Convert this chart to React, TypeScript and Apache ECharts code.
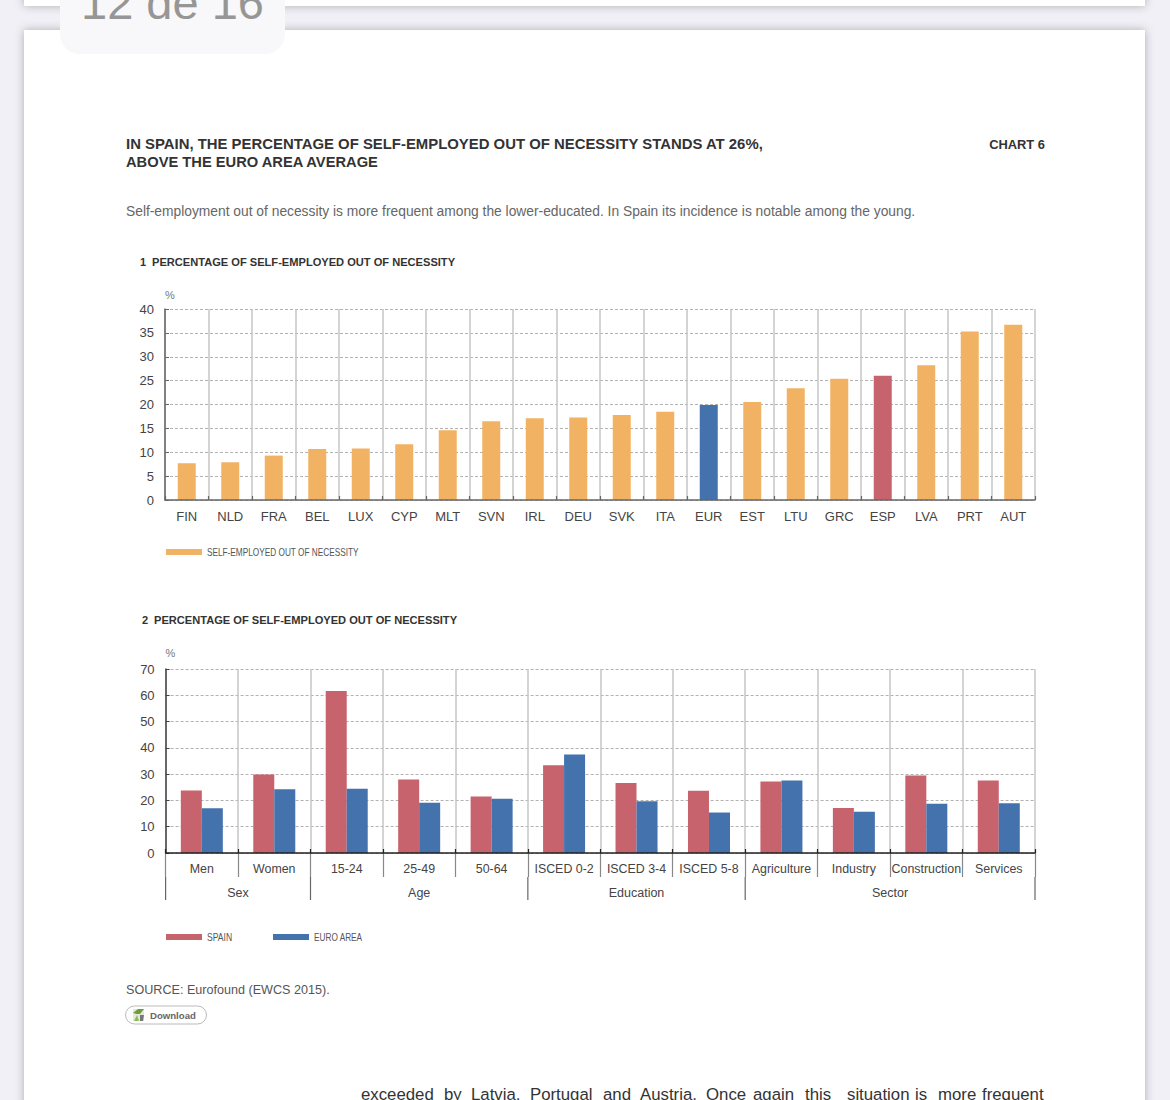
import React, { useEffect, useRef } from "react";
import * as echarts from "echarts";

const countries = ["FIN","NLD","FRA","BEL","LUX","CYP","MLT","SVN","IRL","DEU","SVK","ITA","EUR","EST","LTU","GRC","ESP","LVA","PRT","AUT"];
const necessityValues = [7.7,7.9,9.3,10.7,10.8,11.7,14.6,16.5,17.1,17.3,17.8,18.5,19.9,20.5,23.4,25.4,26,28.2,35.3,36.7];

const segments = ["Men","Women","15-24","25-49","50-64","ISCED 0-2","ISCED 3-4","ISCED 5-8","Agriculture","Industry","Construction","Services"];
const spainValues = [23.8,29.9,61.6,28,21.5,33.4,26.6,23.7,27.2,17.1,29.5,27.6];
const euroValues = [17,24.3,24.4,19.1,20.6,37.5,19.7,15.4,27.6,15.7,18.7,18.9];

const groupNames = ["Sex","Age","Education","Sector"];
const groupSpans = [[0,2],[2,5],[5,8],[8,12]];

const ORANGE = "#F2B263";
const RED = "#C7636D";
const BLUE = "#4472AD";
const highlightColors: Record<string,string> = { EUR: BLUE, ESP: RED };

const SERIES_1 = "SELF-EMPLOYED OUT OF NECESSITY";
const FONT = "'Liberation Sans', Arial, sans-serif";
const TEXT = "#444";

const bottomWords: [string, number][] = [
  ["exceeded",361],["by",444],["Latvia,",471],["Portugal",530],["and",603],["Austria.",640],
  ["Once",706],["again",753],["this",805],["situation",847],["is",915],["more",938],["frequent",982],
];

function txt(x: number, y: number, text: string, fontSize: number, fill: string, fontWeight = "normal", textAlign = "left", scaleX = 1) {
  return { type: "text", x, y, scaleX, z: 5, style: { text, fontSize, fontFamily: FONT, fill, fontWeight, textAlign, textVerticalAlign: "middle" } };
}

function yAxisOf(gridIndex: number, max: number, interval: number, lineColor: string, nameGap: number) {
  return {
    type: "value", gridIndex, min: 0, max, interval,
    name: "%", nameLocation: "end", nameGap,
    nameTextStyle: { color: "#777", fontSize: 11, fontFamily: FONT, align: "left" },
    axisLine: { show: true, lineStyle: { color: lineColor, width: 1.5 } },
    axisTick: { show: true, inside: true, length: 4, lineStyle: { color: lineColor, width: 1 } },
    axisLabel: { color: TEXT, fontSize: 13, fontFamily: FONT, margin: 11 },
    splitLine: { show: true, lineStyle: { color: "#b2b2b2", type: [3, 2], width: 1 } },
  };
}

function categoryLabelAxis(gridIndex: number, data: string[], tickLength: number, margin: number, fontSize: number) {
  return {
    type: "category", gridIndex, data, position: "bottom", z: 0,
    axisLine: { show: false },
    axisTick: { show: tickLength > 0, length: tickLength, interval: 0, lineStyle: { color: "#888", width: 1.2 } },
    axisLabel: { color: TEXT, fontSize, fontFamily: FONT, margin, interval: 0, hideOverlap: false },
    splitLine: { show: true, interval: 0, lineStyle: { color: "#c6c6c6", width: 1.5 } },
  };
}

function categoryLineAxis(gridIndex: number, data: string[], color: string, width: number) {
  return {
    type: "category", gridIndex, data, position: "bottom", z: 3,
    axisLine: { show: true, onZero: false, lineStyle: { color, width } },
    axisTick: { show: true, inside: true, length: 4, interval: 0, lineStyle: { color, width: 1.2 } },
    axisLabel: { show: false },
    splitLine: { show: false },
  };
}

function renderGroup(params: any, api: any) {
  const i = params.dataIndex;
  const start = api.coord([api.value(0), 0]);
  const end = api.coord([api.value(1), 0]);
  const yTop = start[1] + 24;
  const yBottom = start[1] + 47;
  const lineStyle = { stroke: "#666", lineWidth: 1.2 };
  const children: any[] = [
    { type: "line", shape: { x1: start[0], y1: yTop, x2: start[0], y2: yBottom }, style: lineStyle },
    { type: "text", x: (start[0] + end[0]) / 2, y: start[1] + 40,
      style: { text: groupNames[i], fontSize: 12.5, fontFamily: FONT, fill: TEXT, textAlign: "center", textVerticalAlign: "middle" } },
  ];
  if (i === groupSpans.length - 1) {
    children.push({ type: "line", shape: { x1: end[0], y1: yTop, x2: end[0], y2: yBottom }, style: lineStyle });
  }
  return { type: "group", children };
}

export default function App() {
  const ref = useRef<HTMLDivElement>(null);
  useEffect(() => {
    if (!ref.current) return;
    const chart = echarts.init(ref.current, undefined, { renderer: "svg" });
    const emptyLegendText = () => "";
    const option: any = {
      animation: false,
      backgroundColor: "#f0f0f6",
      textStyle: { fontFamily: FONT },
      grid: [
        { left: 165, top: 309, width: 870, height: 191 },
        { left: 165.6, top: 669, width: 869.4, height: 184 },
      ],
      xAxis: [
        categoryLabelAxis(0, countries, 0, 10, 13),
        categoryLineAxis(0, countries, "#666", 1.5),
        categoryLabelAxis(1, segments, 24, 10, 12.4),
        categoryLineAxis(1, segments, "#222", 1.5),
        { type: "value", gridIndex: 1, min: 0, max: segments.length, show: false },
      ],
      yAxis: [yAxisOf(0, 40, 5, "#666", 9), yAxisOf(1, 70, 10, "#444", 11)],
      legend: [
        { data: [SERIES_1], left: 166, top: 549, padding: 0, icon: "rect", itemWidth: 36, itemHeight: 6,
          formatter: emptyLegendText, selectedMode: false },
        { data: ["SPAIN", "EURO AREA"], left: 166, top: 934, padding: 0, icon: "rect", itemWidth: 36, itemHeight: 6, itemGap: 71,
          formatter: emptyLegendText, selectedMode: false },
      ],
      series: [
        { type: "bar", name: SERIES_1, xAxisIndex: 0, yAxisIndex: 0, barWidth: 18,
          itemStyle: { color: ORANGE },
          data: necessityValues.map((value, i) => ({
            value, itemStyle: { color: highlightColors[countries[i]] ?? ORANGE },
          })) },
        { type: "bar", name: "SPAIN", xAxisIndex: 2, yAxisIndex: 1, barWidth: 21, barGap: "0%", itemStyle: { color: RED }, data: spainValues },
        { type: "bar", name: "EURO AREA", xAxisIndex: 2, yAxisIndex: 1, barWidth: 21, barGap: "0%", itemStyle: { color: BLUE }, data: euroValues },
        { type: "custom", name: "groups", xAxisIndex: 4, yAxisIndex: 1, clip: false, silent: true,
          renderItem: renderGroup, encode: { x: [0, 1] }, data: groupSpans },
      ],
      graphic: [
        { type: "rect", z: -3, shape: { x: 24, y: -40, width: 1121, height: 46 },
          style: { fill: "#fff", shadowBlur: 10, shadowColor: "rgba(0,0,0,0.28)" } },
        { type: "rect", z: -3, shape: { x: 24, y: 30, width: 1121, height: 1100 },
          style: { fill: "#fff", shadowBlur: 10, shadowColor: "rgba(0,0,0,0.28)" } },
        { type: "rect", z: -2, shape: { x: 60, y: -30, width: 225, height: 84, r: 20 }, style: { fill: "#f8f8fb" } },
        txt(81, 2, "12 de 16", 47, "#969696"),
        txt(126, 144, "IN SPAIN, THE PERCENTAGE OF SELF-EMPLOYED OUT OF NECESSITY STANDS AT 26%,", 14.9, "#333", "bold"),
        txt(126, 162, "ABOVE THE EURO AREA AVERAGE", 14.7, "#333", "bold"),
        txt(1045, 144, "CHART 6", 12.9, "#333", "bold", "right"),
        txt(126, 211, "Self-employment out of necessity is more frequent among the lower-educated. In Spain its incidence is notable among the young.", 13.8, "#666"),
        txt(140, 262, "1", 11, "#333", "bold"),
        txt(152, 262, "PERCENTAGE OF SELF-EMPLOYED OUT OF NECESSITY", 11.1, "#333", "bold"),
        txt(142, 620, "2", 11, "#333", "bold"),
        txt(154, 620, "PERCENTAGE OF SELF-EMPLOYED OUT OF NECESSITY", 11.1, "#333", "bold"),
        txt(207, 552, SERIES_1, 11, "#555", "normal", "left", 0.75),
        txt(207, 937, "SPAIN", 11, "#555", "normal", "left", 0.78),
        txt(314, 937, "EURO AREA", 11, "#555", "normal", "left", 0.75),
        txt(126, 989.5, "SOURCE: Eurofound (EWCS 2015).", 12.6, "#555"),
        { type: "rect", z: 4, shape: { x: 125.5, y: 1006, width: 81, height: 18, r: 9 }, style: { fill: "#fff", stroke: "#bbb", lineWidth: 1 } },
        { type: "rect", z: 5, shape: { x: 133, y: 1009, width: 11, height: 12 }, style: { fill: "#e3e8dc" } },
        { type: "polygon", z: 5, shape: { points: [[133,1013],[138,1009],[144,1009],[140,1014],[137,1014]] }, style: { fill: "#6f9a3f" } },
        { type: "polygon", z: 5, shape: { points: [[134,1021],[137,1015],[139,1021]] }, style: { fill: "#8fbb55" } },
        { type: "polygon", z: 5, shape: { points: [[140,1015],[144,1015],[143,1021],[140,1021]] }, style: { fill: "#777" } },
        txt(150, 1015, "Download", 9.6, "#666", "bold"),
        ...bottomWords.map(([w, x]) => txt(x, 1094, w, 16.8, "#333")),
      ],
    };
    chart.setOption(option);
    return () => chart.dispose();
  }, []);
  return <div ref={ref} style={{ position: "absolute", left: 0, top: 0, width: 1170, height: 1100 }} />;
}
